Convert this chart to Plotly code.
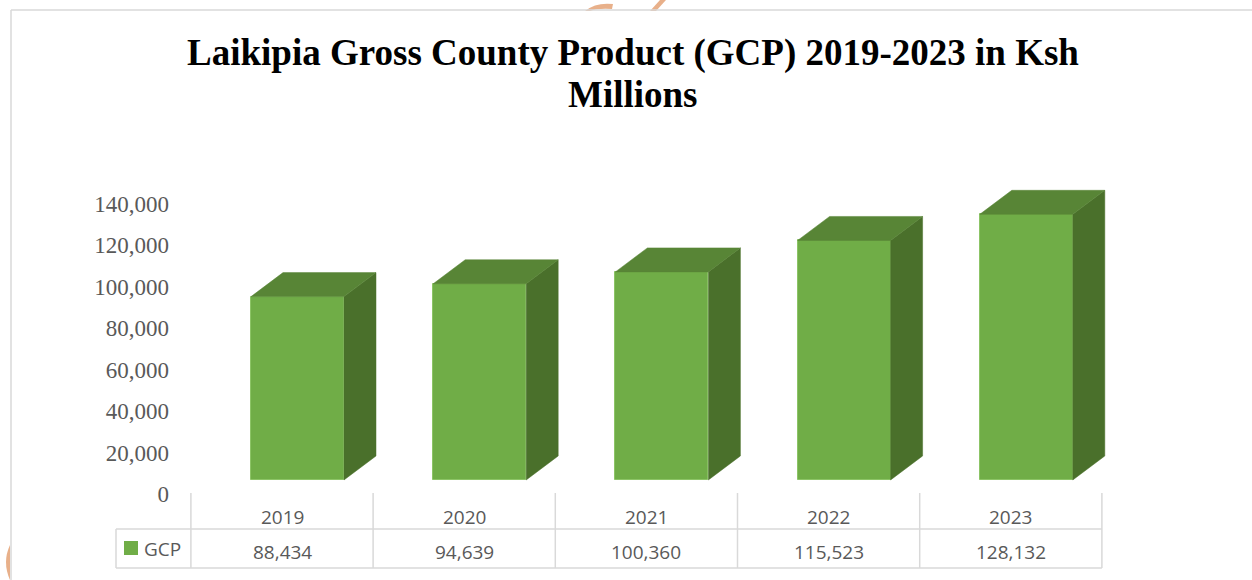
import plotly.graph_objects as go

# ---------------- data ----------------
years = ["2019", "2020", "2021", "2022", "2023"]
gcp = [88434, 94639, 100360, 115523, 128132]
series_name = "GCP"
y_ticks = [0, 20000, 40000, 60000, 80000, 100000, 120000, 140000]
title_line1 = "Laikipia Gross County Product (GCP) 2019-2023 in Ksh"
title_line2 = "Millions"

# ---------------- geometry / style ----------------
W, H = 1252, 580
FRONT = "#70AD47"
TOP = "#588536"
SIDE = "#4A702B"
EDGE = "#8CC466"
GRID = "#D9D9D9"
TXT = "#595959"

# px helpers for paper coords
def py(p):
    return 1 - p / H

def px(p):
    return p / W

xi = list(range(len(years)))
bar_w = 0.5104          # front-face width in category units
bar_off = -0.1701       # front-face start relative to category centre
depth_x = 0.1756        # 3D depth in category units
depth_y = 11574         # 3D depth in value units
base = 6752             # front face floor (value units)

fig = go.Figure()

# side faces and top faces (3D extrusion) computed from data
side_x, side_y, top_x, top_y = [], [], [], []
for i, v in zip(xi, gcp):
    x0 = i + bar_off
    x1 = x0 + bar_w
    t = base + v
    side_x += [x1, x1 + depth_x, x1 + depth_x, x1, x1, None]
    side_y += [base, base + depth_y, t + depth_y, t, base, None]
    top_x += [x0, x1, x1 + depth_x, x0 + depth_x, x0, None]
    top_y += [t, t, t + depth_y, t + depth_y, t, None]

fig.add_trace(go.Scatter(x=side_x, y=side_y, mode="lines", fill="toself",
                         fillcolor=SIDE, line=dict(color=SIDE, width=0.5),
                         hoverinfo="skip", showlegend=False))
fig.add_trace(go.Scatter(x=top_x, y=top_y, mode="lines", fill="toself",
                         fillcolor=TOP, line=dict(color=TOP, width=0.5),
                         hoverinfo="skip", showlegend=False))

fig.add_trace(go.Bar(x=xi, y=gcp, base=base, width=bar_w, offset=bar_off,
                     name=series_name,
                     marker=dict(color=FRONT, line=dict(color=EDGE, width=1)),
                     showlegend=False,
                     customdata=years,
                     hovertemplate="%{customdata}: %{y:,}<extra></extra>"))

# ---------------- data table under the chart ----------------
shapes = []
n = len(years)
# header row verticals
for k in range(n + 1):
    shapes.append(dict(type="line", xref="x", yref="paper",
                       x0=k - 0.5, x1=k - 0.5, y0=py(493), y1=py(568),
                       line=dict(color=GRID, width=1.5)))
# legend cell left border
left_cell = (116 - 282) / 182.2
shapes.append(dict(type="line", xref="x", yref="paper", x0=left_cell, x1=left_cell,
                   y0=py(529), y1=py(568), line=dict(color=GRID, width=1.5)))
for yy in (529, 568):
    shapes.append(dict(type="line", xref="x", yref="paper", x0=left_cell, x1=n - 0.5,
                       y0=py(yy), y1=py(yy), line=dict(color=GRID, width=1.5)))
# legend key
shapes.append(dict(type="rect", xref="paper", yref="paper",
                   x0=px(124), x1=px(138), y0=py(555), y1=py(541),
                   fillcolor=FRONT, line=dict(width=0)))
# chart frame
shapes.append(dict(type="line", xref="paper", yref="paper", x0=px(11), x1=1,
                   y0=py(10), y1=py(10), line=dict(color=GRID, width=1.5)))
shapes.append(dict(type="line", xref="paper", yref="paper", x0=px(11), x1=px(11),
                   y0=py(10), y1=0, line=dict(color=GRID, width=1.5)))
# faint watermark fragments
shapes.append(dict(type="path", xref="paper", yref="paper",
                   path=f"M {px(585)},{py(11)} Q {px(596)},{py(2)} {px(613)},{py(4)} "
                        f"L {px(612)},{py(9)} Q {px(598)},{py(8)} {px(590)},{py(11)} Z",
                   fillcolor="#E8B08A", line=dict(width=0), layer="below"))
shapes.append(dict(type="path", xref="paper", yref="paper",
                   path=f"M {px(650)},{py(11)} L {px(660)},{py(0)} L {px(666)},{py(0)} L {px(656)},{py(11)} Z",
                   fillcolor="#E8B08A", line=dict(width=0), layer="below"))
shapes.append(dict(type="path", xref="paper", yref="paper",
                   path=f"M {px(10)},{py(545)} Q {px(2)},{py(562)} {px(10)},{py(580)} Z",
                   fillcolor="#E8B08A", line=dict(width=0), layer="below"))

annotations = []
tbl_font = dict(family="Open Sans, Noto Sans, sans-serif", size=19, color=TXT)
for i, (yr, v) in enumerate(zip(years, gcp)):
    annotations.append(dict(x=i, y=py(517), xref="x", yref="paper", text=yr,
                            showarrow=False, font=tbl_font, xanchor="center", yanchor="middle"))
    annotations.append(dict(x=i, y=py(552), xref="x", yref="paper", text=f"{v:,}",
                            showarrow=False, font=tbl_font, xanchor="center", yanchor="middle"))
annotations.append(dict(x=px(142), y=py(549), xref="paper", yref="paper", text=series_name,
                        showarrow=False, font=tbl_font, xanchor="left", yanchor="middle"))
annotations.append(dict(x=px(633), y=py(95), xref="paper", yref="paper", text=title_line2,
                        showarrow=False, xanchor="center", yanchor="middle",
                        font=dict(family="Liberation Serif, Times New Roman, serif",
                                  size=37, color="#000000", weight="bold")))

fig.update_layout(
    width=W, height=H,
    margin=dict(l=0, r=0, t=0, b=0),
    paper_bgcolor="white", plot_bgcolor="white",
    title=dict(text=title_line1, x=px(633), xanchor="center", y=py(52), yanchor="middle",
               font=dict(family="Liberation Serif, Times New Roman, serif",
                         size=37, color="#000000", weight="bold")),
    xaxis=dict(range=[-282 / 182.2, (W - 282) / 182.2], visible=False, fixedrange=True),
    yaxis=dict(range=[-41500, 238250], anchor="free", position=px(169),
               tickvals=y_ticks, tickformat=",", showgrid=False, zeroline=False,
               showline=False, ticks="",
               tickfont=dict(family="Liberation Serif, Times New Roman, serif",
                             size=23, color=TXT)),
    shapes=shapes,
    annotations=annotations,
    bargap=0,
)

fig.write_html("out.html")
